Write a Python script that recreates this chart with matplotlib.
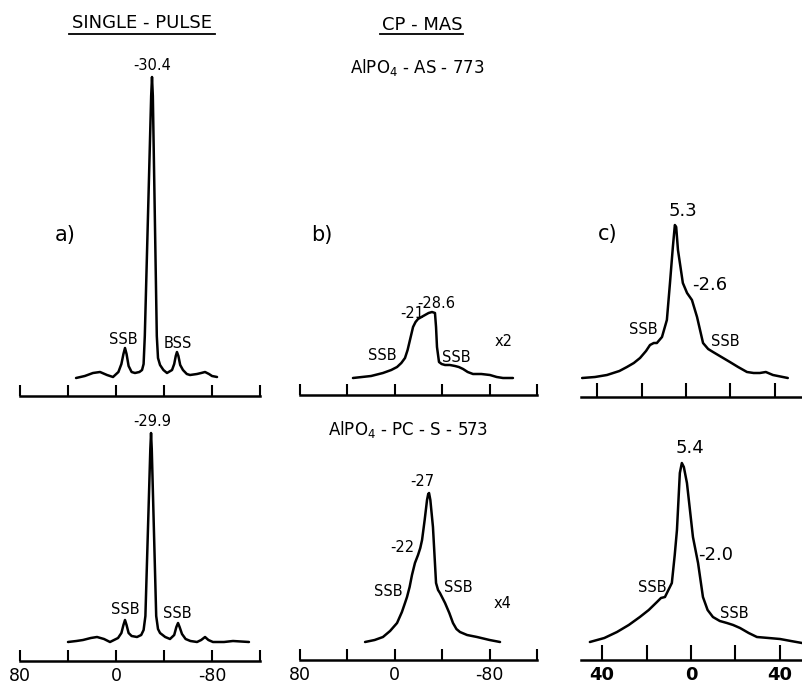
import matplotlib.pyplot as plt
from matplotlib.lines import Line2D

# 27Al / 31P NMR spectra of AlPO4 samples
# x values: chemical shift (ppm), y values: signal height (arbitrary units)

# a) single-pulse, AlPO4-AS-773
a1_ppm = [33.3, 26.0, 19.2, 13.3, 7.5, 2.5, -2.0, -4.5, -6.2, -7.5, -8.8,
          -10.5, -13.0, -15.8, -19.5, -21.7, -23.0, -24.0, -29.3, -30.0,
          -30.7, -34.0, -35.0, -36.7, -39.5, -42.5, -46.7, -48.5, -49.8,
          -50.8, -52.0, -53.5, -55.8, -59.0, -61.7, -67.5, -71.0, -74.2,
          -77.5, -80.0, -84.2]
a1_int = [18, 20, 23, 24, 21, 19, 24, 32, 42, 48, 42,
          30, 24, 23, 24, 26, 32, 60, 300, 319,
          300, 60, 38, 31, 26, 23, 26, 32, 40,
          44, 40, 31, 26, 22, 21, 22, 23, 24,
          22, 20, 19]

# a) single-pulse, AlPO4-PC-S-573
a2_ppm = [40.0, 33.0, 27.5, 21.0, 15.8, 10.0, 5.0, -1.7, -4.5, -6.2, -7.5,
          -8.8, -10.5, -13.0, -17.5, -21.0, -23.0, -24.5, -28.6, -29.2,
          -29.8, -33.5, -35.0, -36.7, -41.0, -45.0, -48.5, -50.3, -51.7,
          -53.0, -55.0, -58.0, -62.0, -67.5, -71.0, -74.2, -77.0, -80.8,
          -90.0, -97.5, -110.8]
a2_int = [19, 20, 21, 23, 24, 22, 19, 23, 28, 36, 41,
          36, 28, 25, 24, 26, 31, 45, 212, 228,
          212, 45, 32, 28, 24, 22, 26, 34, 38,
          34, 27, 22, 20, 19, 21, 24, 21, 19,
          19, 20, 19]

# b) CP-MAS, AlPO4-AS-773 (x2)
b1_ppm = [35.3, 20.0, 10.0, 3.0, -1.9, -5.5, -8.6, -10.8, -12.8, -15.4,
          -17.5, -19.6, -22.5, -25.5, -28.5, -31.4, -33.9, -34.8, -35.6,
          -37.3, -39.5, -42.4, -46.5, -50.8, -54.0, -57.6, -61.5, -66.0,
          -73.0, -80.3, -86.0, -91.3, -99.7]
b1_int = [17, 19, 22, 25, 28, 32, 37, 45, 55, 68,
          73, 76, 78, 80, 82, 83, 82, 68, 48,
          33, 31, 30, 30, 29, 28, 26, 23, 21,
          21, 20, 18, 17, 17]

# b) CP-MAS, AlPO4-PC-S-573 (x4)
b2_ppm = [25.1, 17.0, 10.0, 4.0, -1.9, -6.0, -8.6, -10.3, -12.5, -14.5,
          -17.0, -19.6, -21.5, -23.0, -25.2, -27.2, -28.2, -28.9, -30.0,
          -32.2, -34.8, -36.5, -38.1, -42.4, -46.0, -49.1, -52.0, -55.0,
          -61.0, -69.4, -80.0, -88.8]
b2_int = [18, 20, 23, 29, 37, 48, 57, 63, 73, 85,
          97, 105, 112, 120, 140, 160, 166, 167, 160,
          133, 77, 70, 67, 57, 47, 37, 31, 28,
          25, 23, 20, 18]

# c) CP-MAS, AlPO4-AS-773
c1_ppm = [46.8, 41.0, 35.6, 30.0, 26.6, 23.5, 20.7, 18.0, 16.2, 14.5, 13.1,
          10.8, 8.6, 7.2, 5.9, 5.0, 4.4, 3.6, 1.4, -0.5, -2.7, -5.0,
          -7.7, -10.0, -12.2, -16.0, -19.8, -23.5, -27.5, -30.5, -33.3,
          -36.0, -39.2, -45.9]
c1_int = [19, 20, 22, 26, 30, 34, 39, 46, 52, 54, 54,
          60, 77, 114, 150, 172, 170, 147, 114, 104, 97, 80,
          54, 48, 45, 40, 35, 30, 25, 24, 24,
          25, 22, 19]

# c) CP-MAS, AlPO4-PC-S-573
c2_ppm = [45.5, 39.0, 33.3, 28.0, 23.0, 19.0, 15.3, 13.5, 11.7, 8.6, 7.3,
          6.3, 5.0, 4.1, 3.2, 1.8, -0.9, -3.2, -5.4, -7.5, -9.9, -13.0,
          -16.2, -19.0, -22.1, -26.0, -29.7, -35.0, -40.1, -45.0, -50.0]
c2_int = [18, 22, 28, 35, 43, 50, 58, 62, 63, 77, 105,
          130, 187, 197, 193, 177, 123, 97, 63, 50, 43, 39,
          37, 35, 32, 27, 23, 22, 21, 19, 17]

ab_ticks = [80, 40, 0, -40, -80, -120]
ab_ticklabels = ['80', '', '0', '', '-80', '']
c_ticks = [40, 20, 0, -20, -40]
c_ticklabels = ['40', '', '0', '', '40']

W, H = 802, 685
fig = plt.figure(figsize=(W / 100, H / 100), dpi=100)
plt.rcParams['font.family'] = 'DejaVu Sans'


def panel(x0, x1, y_axis, height, xlim, ticks, ticklen):
    ax = fig.add_axes([x0 / W, 1 - y_axis / H, (x1 - x0) / W, height / H])
    ax.set_xlim(*xlim)
    ax.set_ylim(0, height)
    for s in ['left', 'right', 'top']:
        ax.spines[s].set_visible(False)
    ax.spines['bottom'].set_linewidth(1.8)
    ax.set_yticks([])
    ax.set_xticks(ticks)
    ax.tick_params(axis='x', direction='in', length=ticklen, width=1.5,
                   pad=4, labelbottom=False)
    ax.patch.set_alpha(0)
    return ax


def trace(ax, x, y):
    ax.plot(x, y, color='black', lw=1.8, solid_joinstyle='round',
            solid_capstyle='round')


fs = 10.5

# ---- a) top
ax = panel(20, 260, 396, 350, (80, -120), ab_ticks, 8)
trace(ax, a1_ppm, a1_int)
ax.text(-30, 331, '-30.4', ha='center', va='center', fontsize=fs)
ax.text(-5.8, 56, 'SSB', ha='center', va='center', fontsize=fs)
ax.text(-51.7, 53, 'BSS', ha='center', va='center', fontsize=fs)
ax.text(42.5, 161, 'a)', ha='center', va='center', fontsize=15)

# ---- a) bottom
ax = panel(20, 260, 661, 260, (80, -120), ab_ticks, 8)
trace(ax, a2_ppm, a2_int)
ax.text(-30, 240, '-29.9', ha='center', va='center', fontsize=fs)
ax.text(-7.5, 52, 'SSB', ha='center', va='center', fontsize=fs)
ax.text(-50.8, 48, 'SSB', ha='center', va='center', fontsize=fs)
ax.tick_params(axis='x', labelbottom=True, labelsize=12.5)
ax.set_xticklabels(ab_ticklabels)

# ---- b) top
ax = panel(300, 537, 395, 350, (80, -120), ab_ticks, 8)
trace(ax, b1_ppm, b1_int)
ax.text(-14.5, 82, '-21', ha='center', va='center', fontsize=fs)
ax.text(-34.8, 92, '-28.6', ha='center', va='center', fontsize=fs)
ax.text(10.8, 40, 'SSB', ha='center', va='center', fontsize=fs)
ax.text(-51.6, 38, 'SSB', ha='center', va='center', fontsize=fs)
ax.text(-92, 53, 'x2', ha='center', va='center', fontsize=fs)
ax.text(61.4, 160, 'b)', ha='center', va='center', fontsize=15)

# ---- b) bottom
ax = panel(300, 537, 660, 260, (80, -120), ab_ticks, 8)
trace(ax, b2_ppm, b2_int)
ax.text(-23, 178, '-27', ha='center', va='center', fontsize=fs)
ax.text(-6.1, 112, '-22', ha='center', va='center', fontsize=fs)
ax.text(5.7, 68, 'SSB', ha='center', va='center', fontsize=fs)
ax.text(-53.3, 72, 'SSB', ha='center', va='center', fontsize=fs)
ax.text(-91.3, 57, 'x4', ha='center', va='center', fontsize=fs)
ax.tick_params(axis='x', labelbottom=True, labelsize=12.5)
ax.set_xticklabels(ab_ticklabels)

# ---- c) top
ax = panel(581, 802, 397, 350, (47.3, -52.3), c_ticks, 10)
trace(ax, c1_ppm, c1_int)
ax.text(1.4, 186, '5.3', ha='center', va='center', fontsize=13)
ax.text(-10.8, 112, '-2.6', ha='center', va='center', fontsize=13)
ax.text(19.4, 68, 'SSB', ha='center', va='center', fontsize=fs)
ax.text(-17.6, 56, 'SSB', ha='center', va='center', fontsize=fs)
ax.text(35.1, 163, 'c)', ha='center', va='center', fontsize=15)

# ---- c) bottom
ax = panel(581, 802, 660, 260, (49.5, -50), c_ticks, 11)
trace(ax, c2_ppm, c2_int)
ax.text(0.5, 212, '5.4', ha='center', va='center', fontsize=13)
ax.text(-11.3, 105, '-2.0', ha='center', va='center', fontsize=13)
ax.text(17.6, 73, 'SSB', ha='center', va='center', fontsize=fs)
ax.text(-19.4, 47, 'SSB', ha='center', va='center', fontsize=fs)
ax.tick_params(axis='x', labelbottom=True, labelsize=13)
ax.set_xticklabels(c_ticklabels, fontweight='bold')

# ---- headings
fig.text(142 / W, 1 - 23 / H, 'SINGLE - PULSE', ha='center', va='center', fontsize=13)
fig.add_artist(Line2D([69 / W, 215 / W], [1 - 34 / H, 1 - 34 / H], color='black', lw=1.3))
fig.text(422 / W, 1 - 25 / H, 'CP - MAS', ha='center', va='center', fontsize=13)
fig.add_artist(Line2D([380 / W, 463 / W], [1 - 34 / H, 1 - 34 / H], color='black', lw=1.3))
fig.text(417 / W, 1 - 68 / H, r'AlPO$_4$ - AS - 773', ha='center', va='center', fontsize=12)
fig.text(408 / W, 1 - 430 / H, r'AlPO$_4$ - PC - S - 573', ha='center', va='center', fontsize=12)

fig.savefig('out.png', dpi=100)
